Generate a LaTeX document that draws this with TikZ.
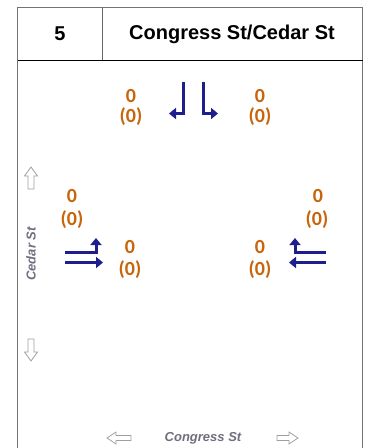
\documentclass[tikz,border=0pt]{standalone}
\usepackage{fontspec}
\setmainfont{Liberation Sans}
\newfontfamily\numfont{Carlito}
\usetikzlibrary{arrows.meta}
\definecolor{volorange}{HTML}{C8640A}
\definecolor{arrowblue}{HTML}{1E1E8C}
\definecolor{streetgray}{HTML}{6E6E7E}
\definecolor{hollowgray}{HTML}{A0A0A0}
\tikzset{
  vol/.style={font=\numfont\bfseries\fontsize{20}{22}\selectfont, text=volorange, inner sep=0pt},
  mov/.style={draw=arrowblue, line width=3pt, -{Triangle[length=7pt,width=11pt]}},
  street/.style={font=\bfseries\itshape\fontsize{13}{15}\selectfont, text=streetgray, inner sep=0pt},
  hollow/.style={draw=hollowgray, line width=0.8pt, fill=white, line join=miter},
  hdr/.style={font=\bfseries\fontsize{20}{22}\selectfont, inner sep=0pt}
}
\begin{document}
\begin{tikzpicture}[x=1pt,y=-1pt]
\useasboundingbox (0,0) rectangle (372,448);
% frame
\draw[draw=gray!90!black, line width=0.9pt] (17.5,448) -- (17.5,7.5) -- (362.5,7.5) -- (362.5,448);
\draw[black, line width=1pt] (17.5,60) -- (362.5,60);
\draw[gray!80!black, line width=0.9pt] (102,7.5) -- (102,60);
\node[hdr] (num) at (60,34) {5};
\node[hdr] (title) at (232,34) {Congress St/Cedar St};
% volumes
\node[vol] (nl1) at (131,96) {0};  \node[vol] (nl2) at (131,117) {(0)};
\node[vol] (nr1) at (260,96) {0};  \node[vol] (nr2) at (260,117) {(0)};
\node[vol] (wl1) at (72,196) {0};  \node[vol] (wl2) at (72,220) {(0)};
\node[vol] (wr1) at (130,247) {0}; \node[vol] (wr2) at (130,270) {(0)};
\node[vol] (el1) at (260,247) {0}; \node[vol] (el2) at (260,270) {(0)};
\node[vol] (er1) at (318,196) {0}; \node[vol] (er2) at (317,220) {(0)};
% southbound
\coordinate (s1a) at (183,82); \coordinate (s1b) at (183,113.5); \coordinate (s1c) at (169,113.5);
\coordinate (s2a) at (203,82); \coordinate (s2b) at (203,113.5); \coordinate (s2c) at (218,113.5);
\draw[mov] (s1a) -- (s1b) -- (s1c);
\draw[mov] (s2a) -- (s2b) -- (s2c);
% eastbound
\coordinate (e1a) at (65,252.5); \coordinate (e1b) at (96,252.5); \coordinate (e1c) at (96,238);
\coordinate (e2a) at (65,262.5); \coordinate (e2b) at (103,262.5);
\draw[mov] (e1a) -- (e1b) -- (e1c);
\draw[mov] (e2a) -- (e2b);
% westbound
\coordinate (w1a) at (326,252.5); \coordinate (w1b) at (295,252.5); \coordinate (w1c) at (295,238);
\coordinate (w2a) at (326,262.5); \coordinate (w2b) at (289,262.5);
\draw[mov] (w1a) -- (w1b) -- (w1c);
\draw[mov] (w2a) -- (w2b);
% street names
\node[street, rotate=90] (cedar) at (31,254) {Cedar St};
\node[street] (congress) at (203,438) {Congress St};
% hollow arrows
\draw[hollow] (31,167) -- (37.5,176) -- (34,176) -- (34,189) -- (28,189) -- (28,176) -- (24.5,176) -- cycle;
\draw[hollow] (31,361) -- (37.5,352) -- (34,352) -- (34,339) -- (28,339) -- (28,352) -- (24.5,352) -- cycle;
\draw[hollow] (107,438) -- (116,432) -- (116,435.5) -- (131,435.5) -- (131,440.5) -- (116,440.5) -- (116,444) -- cycle;
\draw[hollow] (298,438) -- (289,432) -- (289,435.5) -- (277,435.5) -- (277,440.5) -- (289,440.5) -- (289,444) -- cycle;
\end{tikzpicture}
\end{document}
